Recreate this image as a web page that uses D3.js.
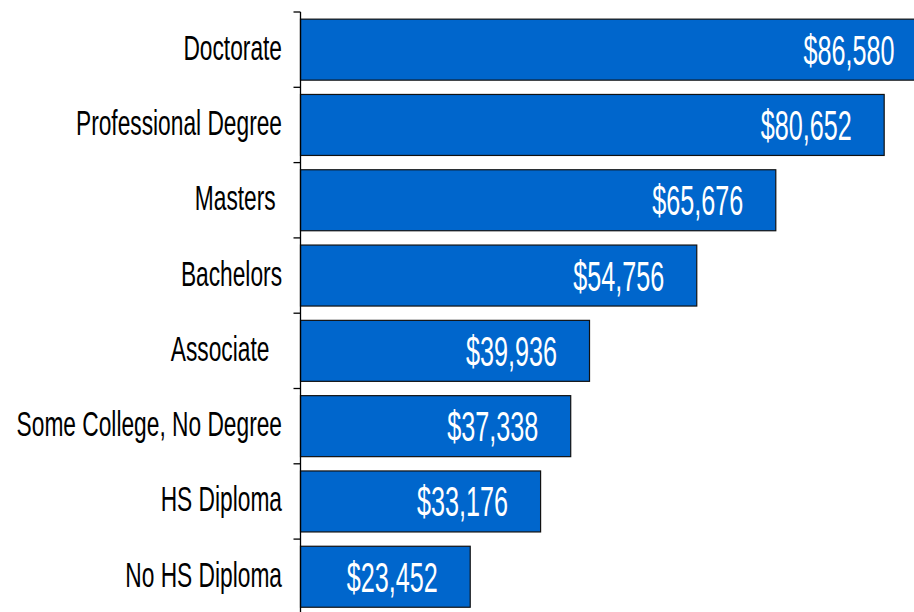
<!DOCTYPE html>
<html>
<head>
<meta charset="utf-8">
<script src="https://cdn.jsdelivr.net/npm/d3@7/dist/d3.min.js"></script>
<style>
  html, body { margin: 0; padding: 0; background: #fff; overflow: hidden; }
  svg { display: block; }
  text { font-family: "Liberation Sans", Arial, sans-serif; white-space: pre; }
</style>
</head>
<body>
<svg id="chart" width="914" height="612"></svg>
<script>
const categories = ["Doctorate", "Professional Degree", "Masters ", "Bachelors", "Associate  ", "Some College, No Degree", "HS Diploma", "No HS Diploma"];
const values = [86580, 80652, 65676, 54756, 39936, 37338, 33176, 23452];
const valueLabels = ["$86,580", "$80,652", "$65,676", "$54,756", "$39,936", "$37,338", "$33,176", "$23,452"];

const svg = d3.select("#chart");
const W = 914, H = 612;

const y = d3.scaleBand().domain(categories).range([12, 12 + 8 * 75.3]).padding(0);
const x = d3.scaleLinear().domain([0, 100000]).range([300.5, 300.5 + 723.7]);

const barPad = 0.095;
const data = categories.map((c, i) => ({ c, v: values[i], label: valueLabels[i] }));

// bars
svg.append("g").selectAll("rect").data(data).join("rect")
  .attr("x", x(0))
  .attr("y", d => y(d.c) + y.bandwidth() * barPad)
  .attr("width", d => x(d.v) - x(0))
  .attr("height", y.bandwidth() * (1 - 2 * barPad))
  .attr("fill", "#0066CC")
  .attr("stroke", "#111")
  .attr("stroke-width", 1.2);

// axis line + boundary ticks
const ax = svg.append("g");
ax.append("line").attr("x1", x(0)).attr("x2", x(0)).attr("y1", y.range()[0]).attr("y2", H)
  .attr("stroke", "#000").attr("stroke-width", 1.3);
const bounds = categories.map(c => y(c)).concat([y.range()[1]]);
ax.selectAll("line.tick").data(bounds).join("line").attr("class", "tick")
  .attr("x1", x(0) - 7).attr("x2", x(0)).attr("y1", d => d).attr("y2", d => d)
  .attr("stroke", "#000").attr("stroke-width", 1.3);

// category labels
svg.append("g").selectAll("text").data(data).join("text")
  .attr("transform", d => `translate(282, ${y(d.c) + y.bandwidth() / 2 + 10}) scale(0.65,1)`)
  .attr("text-anchor", "end")
  .attr("font-size", 35)
  .attr("fill", "#000")
  .text(d => d.c);

// value labels
svg.append("g").selectAll("text").data(data).join("text")
  .attr("transform", d => `translate(${x(d.v) - 78}, ${y(d.c) + y.bandwidth() / 2 + 15}) scale(0.6,1)`)
  .attr("text-anchor", "middle")
  .attr("font-size", 42)
  .attr("fill", "#fff")
  .text(d => d.label);
</script>
</body>
</html>
